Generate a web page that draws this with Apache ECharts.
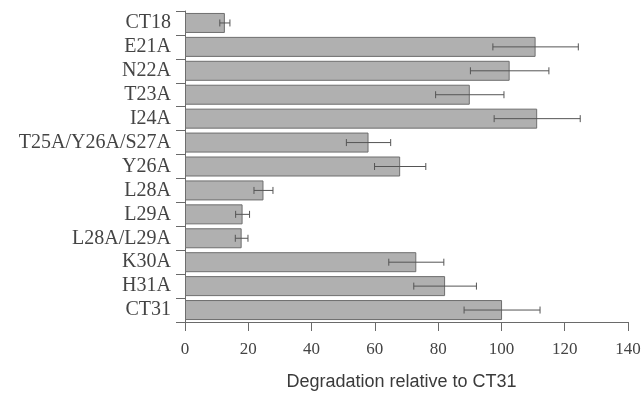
<!DOCTYPE html>
<html>
<head>
<meta charset="utf-8">
<script src="https://cdn.jsdelivr.net/npm/echarts@6/dist/echarts.min.js"></script>
<style>
html,body{margin:0;padding:0;background:#fff;}
#chart{width:644px;height:396px;}
</style>
</head>
<body>
<div id="chart"></div>
<script>
// categories top to bottom
var categories = ['CT18','E21A','N22A','T23A','I24A','T25A/Y26A/S27A','Y26A','L28A','L29A','L28A/L29A','K30A','H31A','CT31'];
// degradation relative to CT31 (%)
var values = [12.6, 110.8, 102.6, 90.0, 111.3, 58.0, 68.0, 24.8, 18.2, 17.9, 73.1, 82.2, 100.2];
// +/- error
var errors = [1.6, 13.5, 12.4, 10.8, 13.6, 7.0, 8.1, 3.0, 2.2, 2.0, 8.7, 9.9, 12.0];
var xTicks = [0, 20, 40, 60, 80, 100, 120, 140];

var errData = values.map(function(v, i){
    return [i, v - errors[i], v + errors[i]];
});

var chart = echarts.init(document.getElementById('chart'));
var option = {
    animation: false,
    backgroundColor: '#ffffff',
    grid: {left: 185, right: 16, top: 11, bottom: 68},
    xAxis: {
        type: 'value',
        min: xTicks[0],
        max: xTicks[xTicks.length - 1],
        interval: 20,
        splitLine: {show: false},
        axisLine: {show: true, lineStyle: {color: '#6a6a6a', width: 1}},
        axisTick: {show: true, length: 9, lineStyle: {color: '#6a6a6a'}},
        axisLabel: {
            margin: 19,
            fontFamily: 'Liberation Serif',
            fontSize: 17,
            color: '#444'
        },
        name: 'Degradation relative to CT31',
        nameLocation: 'middle',
        nameGap: 51,
        nameTextStyle: {
            fontFamily: 'Liberation Sans',
            fontSize: 18,
            color: '#3a3a3a',
            padding: [0, 10, 0, 0]
        }
    },
    yAxis: {
        type: 'category',
        data: categories,
        inverse: true,
        axisLine: {show: true, lineStyle: {color: '#6a6a6a', width: 1}},
        axisTick: {show: true, interval: 0, length: 9, lineStyle: {color: '#6a6a6a'}},
        axisLabel: {
            interval: 0,
            margin: 14,
            fontFamily: 'Liberation Serif',
            fontSize: 20,
            color: '#444'
        }
    },
    series: [
        {
            type: 'bar',
            data: values,
            barWidth: 20,
            itemStyle: {
                color: '#b0b0b0',
                borderColor: '#6e6e6e',
                borderWidth: 1
            },
            z: 2
        },
        {
            type: 'custom',
            data: errData,
            encode: {x: [1, 2], y: 0},
            z: 3,
            renderItem: function(params, api){
                var idx = api.value(0);
                var lo = api.coord([api.value(1), idx]);
                var hi = api.coord([api.value(2), idx]);
                var h = 3.5;
                var st = {stroke: '#555555', lineWidth: 1};
                return {
                    type: 'group',
                    children: [
                        {type: 'line', shape: {x1: lo[0], y1: lo[1], x2: hi[0], y2: hi[1]}, style: st},
                        {type: 'line', shape: {x1: lo[0], y1: lo[1] - h, x2: lo[0], y2: lo[1] + h}, style: st},
                        {type: 'line', shape: {x1: hi[0], y1: hi[1] - h, x2: hi[0], y2: hi[1] + h}, style: st}
                    ]
                };
            }
        }
    ]
};
chart.setOption(option);
</script>
</body>
</html>
